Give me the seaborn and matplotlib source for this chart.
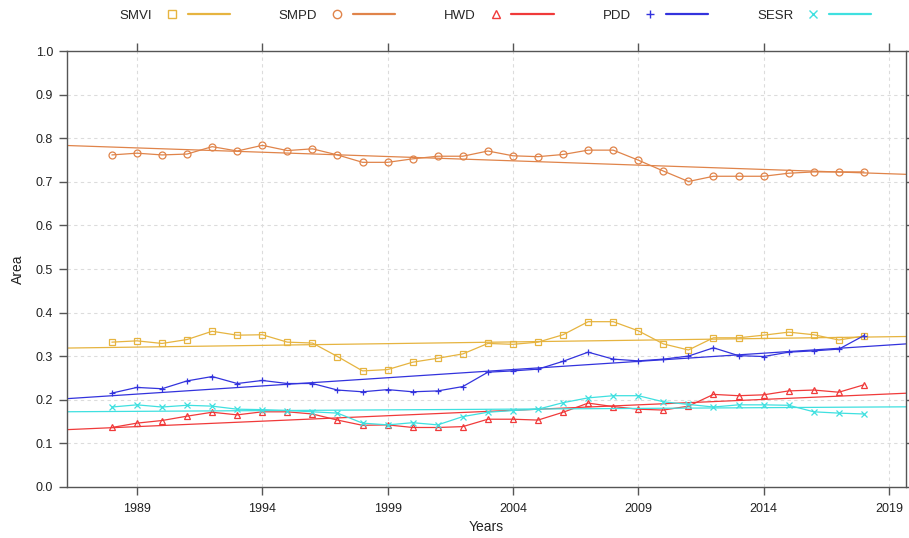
import numpy as np
import pandas as pd
import matplotlib
matplotlib.use("Agg")
import matplotlib.pyplot as plt
import seaborn as sns
from matplotlib.lines import Line2D
from matplotlib.legend_handler import HandlerBase

years = list(range(1988, 2019))

smvi = [0.332, 0.335, 0.329, 0.338, 0.357, 0.348, 0.349, 0.332, 0.330, 0.299,
        0.266, 0.269, 0.286, 0.295, 0.305, 0.329, 0.327, 0.332, 0.349, 0.379,
        0.379, 0.358, 0.328, 0.314, 0.342, 0.342, 0.348, 0.355, 0.349, 0.337, 0.346]
smpd = [0.762, 0.766, 0.762, 0.764, 0.781, 0.771, 0.784, 0.772, 0.776, 0.762,
        0.745, 0.745, 0.753, 0.759, 0.759, 0.771, 0.760, 0.758, 0.763, 0.773,
        0.773, 0.750, 0.725, 0.701, 0.713, 0.713, 0.713, 0.720, 0.723, 0.723, 0.723]
hwd = [0.136, 0.146, 0.152, 0.162, 0.171, 0.165, 0.172, 0.172, 0.167, 0.153,
       0.141, 0.142, 0.136, 0.136, 0.138, 0.155, 0.155, 0.153, 0.171, 0.192,
       0.184, 0.178, 0.176, 0.185, 0.212, 0.209, 0.211, 0.220, 0.222, 0.217, 0.234]
pdd = [0.215, 0.228, 0.225, 0.243, 0.253, 0.237, 0.244, 0.237, 0.237, 0.222,
       0.218, 0.223, 0.218, 0.220, 0.230, 0.263, 0.266, 0.270, 0.288, 0.309,
       0.293, 0.289, 0.293, 0.300, 0.319, 0.301, 0.299, 0.309, 0.312, 0.316, 0.347]
sesr = [0.183, 0.188, 0.183, 0.187, 0.185, 0.178, 0.177, 0.175, 0.172, 0.169,
        0.146, 0.142, 0.147, 0.142, 0.161, 0.171, 0.175, 0.178, 0.193, 0.204,
        0.209, 0.209, 0.195, 0.189, 0.183, 0.188, 0.188, 0.187, 0.172, 0.169, 0.167]

series_names = ["SMVI", "SMPD", "HWD", "PDD", "SESR"]
series_values = [smvi, smpd, hwd, pdd, sesr]
colors = ["#e6b440", "#e0844a", "#f03a3a", "#3333dd", "#3fe0e0"]
markers = ["s", "o", "^", "+", "x"]

xticks = [1989, 1994, 1999, 2004, 2009, 2014, 2019]
yticks = [round(0.1 * i, 1) for i in range(11)]

sns.set_style("ticks")
plt.rcParams["font.family"] = ["Liberation Sans", "DejaVu Sans"]

fig = plt.figure(figsize=(9.09, 5.38), dpi=100)
ax = fig.add_axes([67 / 909, 51.3 / 538, 839 / 909, 435.4 / 538])

ax.set_xlim(1986.21, 2019.68)
ax.set_ylim(0, 1.0)

# grid
for yt in yticks[1:-1]:
    ax.axhline(yt, color="#dcdcdc", lw=0.8, ls=(0, (3, 3)), zorder=0)
for xt in xticks:
    ax.axvline(xt, color="#dcdcdc", lw=0.8, ls=(0, (3, 3)), zorder=0)

for name, vals, c, m in zip(series_names, series_values, colors, markers):
    df = pd.DataFrame({"Years": years, "Area": vals})
    sns.regplot(data=df, x="Years", y="Area", ax=ax, scatter=False, ci=None,
                truncate=False, color=c, line_kws={"lw": 0.9})
    sns.lineplot(data=df, x="Years", y="Area", ax=ax, color=c, lw=0.9,
                 marker=m, fillstyle="none", markersize=5,
                 markeredgewidth=0.9, markeredgecolor=c)

ax.set_xticks(xticks)
ax.set_yticks(yticks)
ax.set_yticklabels([f"{v:.1f}" for v in yticks])
ax.tick_params(axis="both", direction="out", length=6, width=1, color="#555555",
               labelsize=9, labelcolor="#222222", pad=4)
ax.tick_params(axis="x", top=True, pad=6)
ax.tick_params(axis="y", right=True)
for s in ax.spines.values():
    s.set_color("#555555")
    s.set_linewidth(1)
ax.set_xlabel("Years", fontsize=10, color="#222222", labelpad=3)
ax.set_ylabel("Area", fontsize=10, color="#222222", labelpad=8)


class MarkerThenLine(HandlerBase):
    def create_artists(self, legend, orig_handle, xdescent, ydescent, width,
                       height, fontsize, trans):
        y = height / 2 - ydescent
        c = orig_handle.get_color()
        mk = Line2D([-xdescent + 0.12 * width], [y], marker=orig_handle.get_marker(),
                    color=c, linestyle="none", fillstyle="none", markersize=6,
                    markeredgewidth=1.0)
        ln = Line2D([-xdescent + 0.36 * width, -xdescent + width], [y, y], color=c, lw=1.6)
        mk.set_transform(trans)
        ln.set_transform(trans)
        return [mk, ln]


handles = [Line2D([], [], color=c, marker=m) for c, m in zip(colors, markers)]
fig.legend(handles, series_names, loc="center", bbox_to_anchor=(0.545, 0.971),
           ncol=5, frameon=False, markerfirst=False, fontsize=9.5,
           handler_map={Line2D: MarkerThenLine()}, handlelength=5.0,
           handletextpad=0.9, columnspacing=3.7)

fig.savefig("out.png", dpi=100)
